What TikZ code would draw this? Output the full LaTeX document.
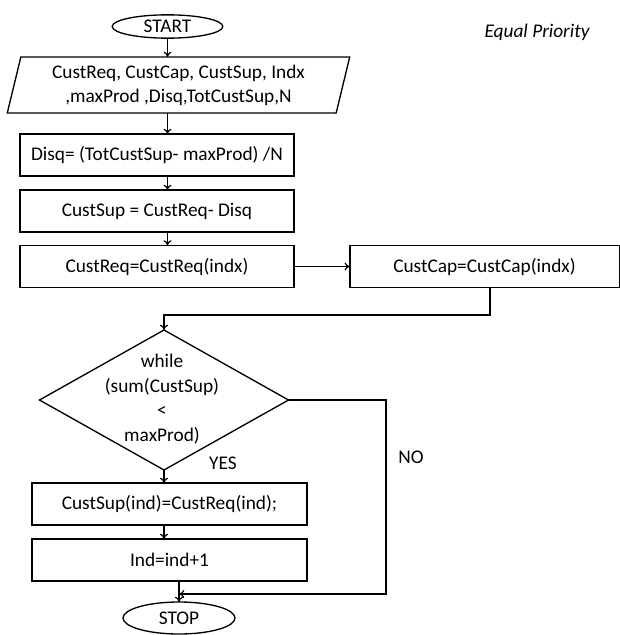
\documentclass[tikz,border=0pt]{standalone}
\usepackage{fontspec}
\setmainfont{Carlito}
\usetikzlibrary{shapes.geometric,arrows.meta}

\begin{document}
\begin{tikzpicture}[x=0.75pt,y=0.75pt,yscale=-1,xscale=1,
    every node/.style={font=\fontsize{14.5}{18}\selectfont},
    flow/.style={draw,line width=1pt,inner sep=0pt,outer sep=0pt},
    procbox/.style={flow,rectangle,minimum height=31.5pt},
    termin/.style={flow,ellipse},
    arr/.style={line width=0.9pt,-{To[length=4pt,width=6pt]}}]
    \useasboundingbox (0,0) rectangle (620,635);

    % Terminal Node
    \node[termin,minimum width=83pt,minimum height=17.5pt] (start) at (167.5,26.5) {START};
    % Text Node
    \node[font=\fontsize{14.5}{18}\selectfont\itshape] (title) at (537,32) {Equal Priority};
    % Input Node
    \node[flow,trapezium,trapezium left angle=75,trapezium right angle=105,trapezium stretches=true,
          minimum width=257pt,minimum height=42pt,align=center] (input) at (178.5,85)
        {CustReq, CustCap, CustSup, Indx\\,maxProd ,Disq,TotCustSup,N};
    % Process Nodes
    \node[procbox,minimum width=205.5pt] (disq) at (157,155) {Disq= (TotCustSup- maxProd) /N};
    \node[procbox,minimum width=205.5pt] (sup) at (157,211) {CustSup = CustReq- Disq};
    \node[procbox,minimum width=205.5pt] (req) at (157,266.5) {CustReq=CustReq(indx)};
    \node[procbox,minimum width=202pt] (cap) at (484.5,266.5) {CustCap=CustCap(indx)};
    % Decision Node
    \node[flow,diamond,minimum width=186.75pt,minimum height=105pt] (loop) at (164,400) {};
    \node[font=\fontsize{14.5}{18.5}\selectfont,align=center] (looptxt) at (162,399)
        {while\\(sum(CustSup)\\<\\maxProd)};
    % Process Nodes
    \node[procbox,minimum width=206.25pt] (act) at (169.5,504) {CustSup(ind)=CustReq(ind);};
    \node[procbox,minimum width=206.25pt] (inc) at (169.5,560) {Ind=ind+1};
    % Terminal Node
    \node[termin,minimum width=84pt,minimum height=24pt] (stop) at (179,618) {STOP};
    % Text Node
    \node (yes) at (223,463) {YES};
    \node (no) at (411,457) {NO};
    \coordinate (capturn) at (490,315);
    \coordinate (nocorner) at (386,594);

    % Connection
    \draw[arr] (start.south) -- (start.south |- input.north);
    % Connection
    \draw[arr] (start |- input.south) -- (start |- disq.north);
    % Connection
    \draw[arr] (start |- disq.south) -- (start |- sup.north);
    % Connection
    \draw[arr] (start |- sup.south) -- (start |- req.north);
    % Connection
    \draw[arr] (req.east) -- (cap.west);
    % Connection
    \draw[arr] (capturn |- cap.south) -- (capturn) -| (loop.north);
    % Connection
    \draw[arr] (loop.south) -- (loop.south |- act.north);
    % Connection
    \draw[arr] (loop.south |- act.south) -- (loop.south |- inc.north);
    % Connection
    \draw[arr] (stop |- inc.south) -- (stop.north);
    % Connection
    \draw[arr] (loop.east) -| (nocorner) -- (stop |- nocorner);

\end{tikzpicture}
\end{document}
